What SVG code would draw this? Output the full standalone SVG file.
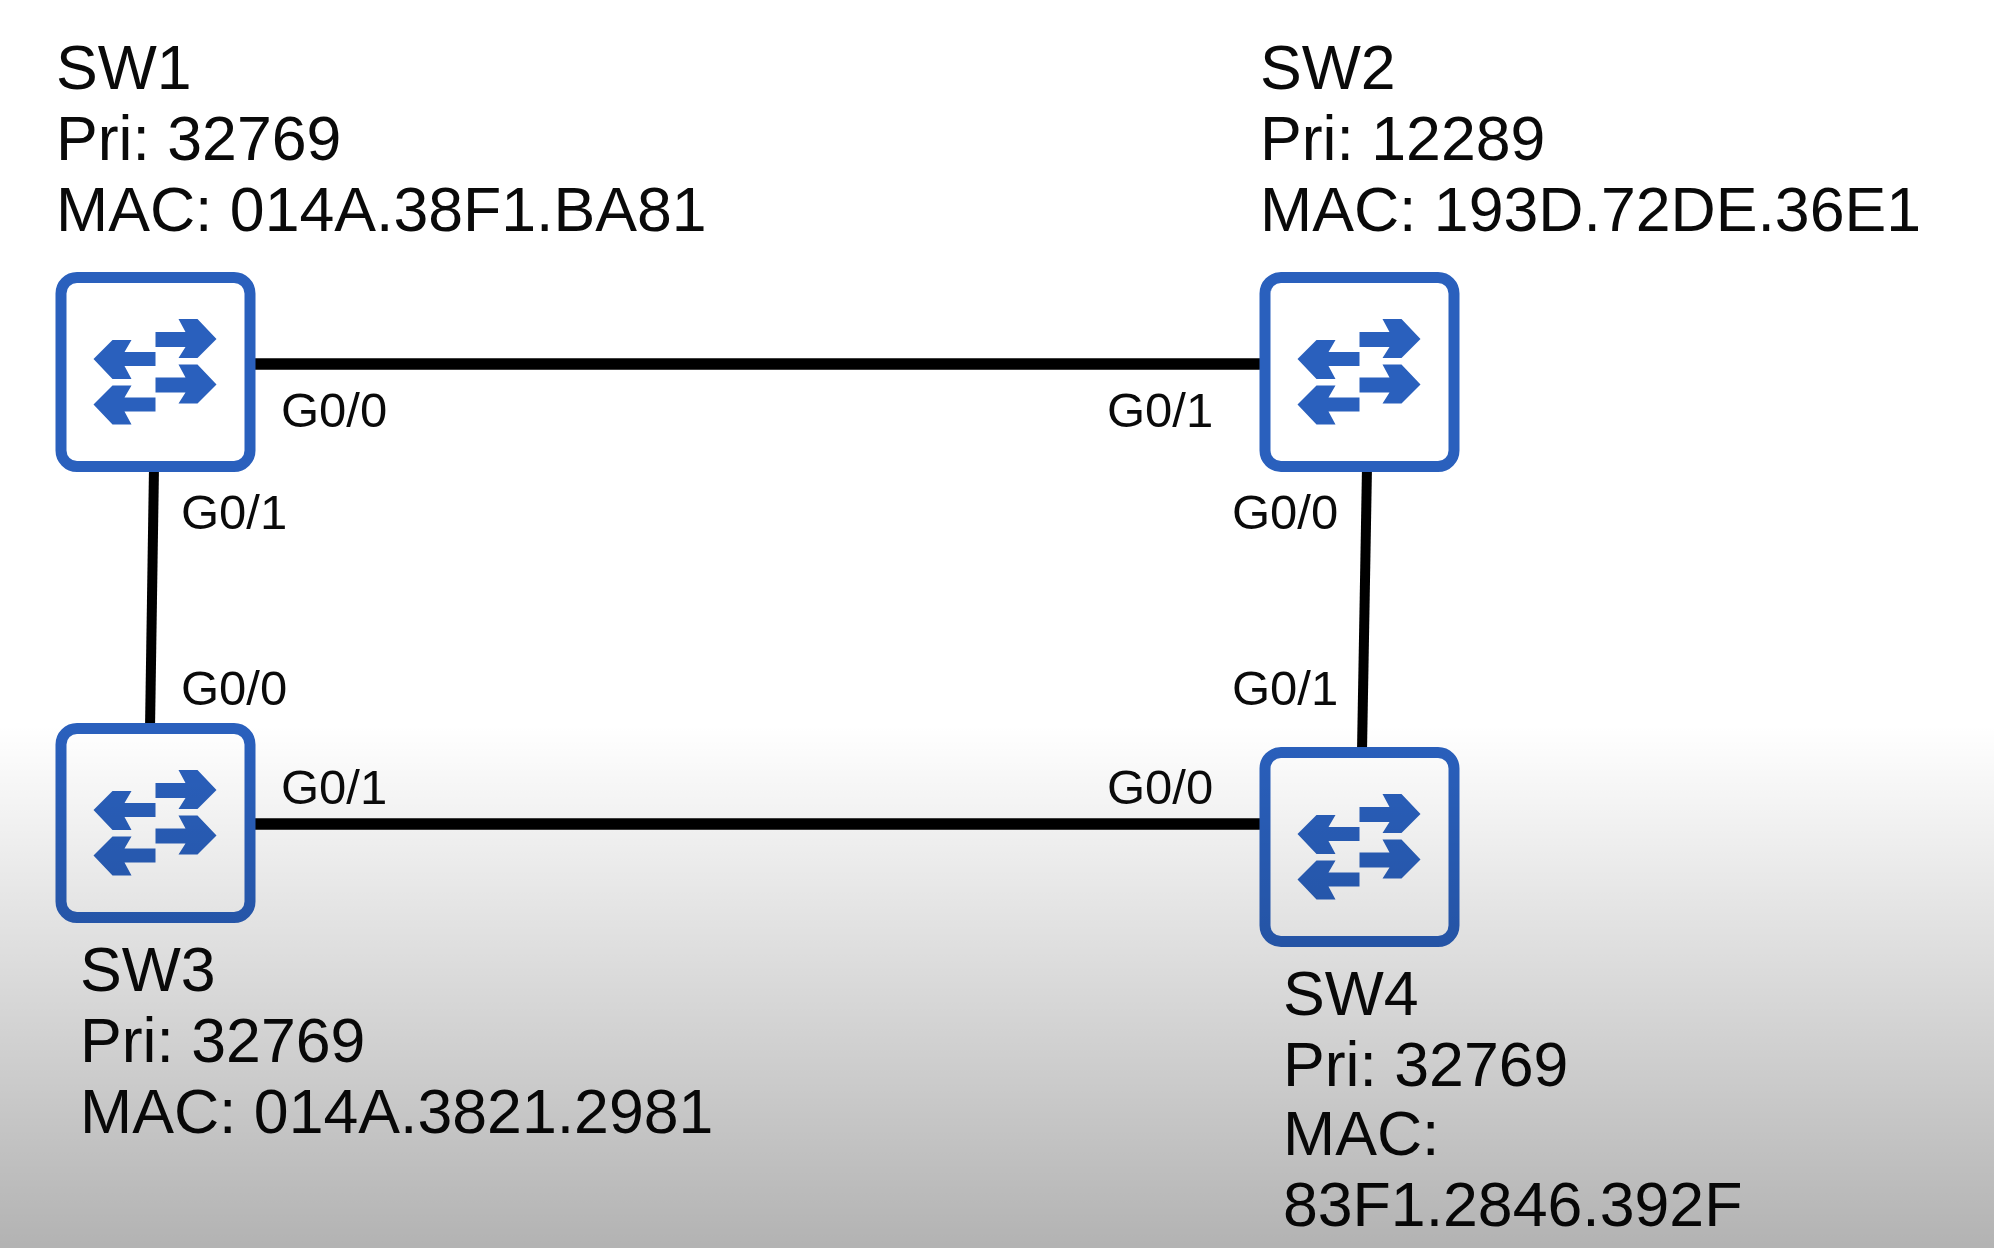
<svg xmlns="http://www.w3.org/2000/svg" width="1994" height="1248" viewBox="0 0 1994 1248">
<style>
.n{font-family:"Liberation Sans",Arial,sans-serif;font-size:62.6px;fill:#0a0a0a}
.p{font-family:"Liberation Sans",Arial,sans-serif;font-size:49px;fill:#0a0a0a}
.box{fill:#fff;stroke:#2a60bd;stroke-width:11}
.ar{fill:#2a60bd}
.h{stroke:#000;stroke-width:11.500;fill:none}
.v{stroke:#000;stroke-width:10;fill:none}
</style>
<defs>
<linearGradient id="bg" x1="0" y1="0" x2="0" y2="1"><stop offset="0" stop-color="#000" stop-opacity="0"/><stop offset="1" stop-color="#000" stop-opacity="0.300"/></linearGradient>
<g id="icon">
<rect class="box" x="5.500" y="5.500" width="189" height="189" rx="16"/>
<path class="ar" d="M100,60H130L123,47H142L161,67L142,86H123L130,75H100Z"/>
<path class="ar" d="M100,105.500H130L123,92.500H142L161,112.500L142,131.500H123L130,120.500H100Z"/>
<path class="ar" d="M38,87L57,68H76L69,80H100V94H69L76,107H57Z"/>
<path class="ar" d="M38,132.500L57,113.500H76L69,125.500H100V139.500H69L76,152.500H57Z"/>
</g>
</defs>
<rect width="1994" height="1248" fill="#fff"/>
<g id="connectors">
<line class="h" x1="250" y1="364" x2="1265" y2="364"/>
<line class="v" x1="154" y1="467" x2="150" y2="729"/>
<line class="v" x1="1367" y1="467" x2="1362" y2="751"/>
<line class="h" x1="250" y1="824" x2="1265" y2="824"/>
</g>
<g id="sw1"><use href="#icon" x="55.500" y="272"/>
<text class="n" x="56" y="89">SW1</text><text class="n" x="56" y="160">Pri: 32769</text><text class="n" x="56" y="231">MAC: 014A.38F1.BA81</text></g>
<g id="sw2"><use href="#icon" x="1259.500" y="272"/>
<text class="n" x="1260" y="89">SW2</text><text class="n" x="1260" y="160">Pri: 12289</text><text class="n" x="1260" y="231">MAC: 193D.72DE.36E1</text></g>
<g id="sw3"><use href="#icon" x="55.500" y="723"/>
<text class="n" x="80" y="991">SW3</text><text class="n" x="80" y="1062">Pri: 32769</text><text class="n" x="80" y="1133">MAC: 014A.3821.2981</text></g>
<g id="sw4"><use href="#icon" x="1259.500" y="747"/>
<text class="n" x="1283" y="1015">SW4</text><text class="n" x="1283" y="1086">Pri: 32769</text><text class="n" x="1283" y="1155">MAC:</text><text class="n" x="1283" y="1226">83F1.2846.392F</text></g>
<g id="ports">
<text class="p" x="281" y="427">G0/0</text>
<text class="p" x="1107" y="427">G0/1</text>
<text class="p" x="181" y="529">G0/1</text>
<text class="p" x="1232" y="529">G0/0</text>
<text class="p" x="181" y="705">G0/0</text>
<text class="p" x="1232" y="705">G0/1</text>
<text class="p" x="281" y="804">G0/1</text>
<text class="p" x="1107" y="804">G0/0</text>
</g>
<rect y="725" width="1994" height="523" fill="url(#bg)"/>
</svg>
